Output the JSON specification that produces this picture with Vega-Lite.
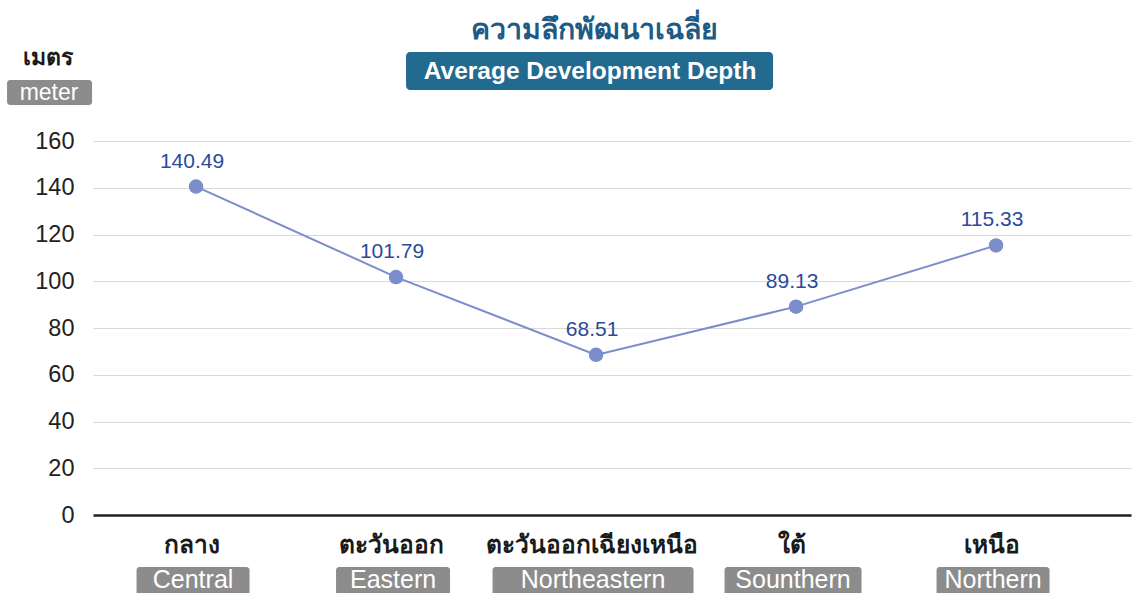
{
  "$schema": "https://vega.github.io/schema/vega-lite/v6.json",
  "autosize": {"type": "none"},
  "width": 1038,
  "height": 374,
  "padding": {"left": 93, "top": 141, "right": 1, "bottom": 78},
  "background": "white",
  "config": {"view": {"stroke": null}, "font": "Liberation Sans"},
  "data": {"values": [
    {"region_th": "กลาง", "region_en": "Central", "depth": 140.49},
    {"region_th": "ตะวันออก", "region_en": "Eastern", "depth": 101.79},
    {"region_th": "ตะวันออกเฉียงเหนือ", "region_en": "Northeastern", "depth": 68.51},
    {"region_th": "ใต้", "region_en": "Sounthern", "depth": 89.13},
    {"region_th": "เหนือ", "region_en": "Northern", "depth": 115.33}
  ]},
  "layer": [
    {
      "mark": {"type": "line", "color": "#7b8ecb", "strokeWidth": 2},
      "encoding": {
        "x": {"field": "region_th", "type": "nominal", "sort": null,
          "scale": {"type": "point", "padding": 0.595, "align": 0.433},
          "axis": {"title": null, "domain": true, "domainColor": "#222222", "domainWidth": 2.5, "ticks": false, "grid": false,
            "labelFontSize": 24.5, "labelFontWeight": "bold", "labelColor": "#1a1a1a", "labelPadding": 18, "labelOffset": -5, "labelAngle": 0, "labelLimit": 500}},
        "y": {"field": "depth", "type": "quantitative",
          "scale": {"domain": [0, 160], "nice": false},
          "axis": {"title": null, "values": [0, 20, 40, 60, 80, 100, 120, 140, 160], "grid": true, "gridColor": "#d9d9d9", "gridWidth": 1,
            "ticks": false, "domain": false, "labelFontSize": 23.5, "labelColor": "#222222", "labelPadding": 19}}
      }
    },
    {
      "mark": {"type": "point", "filled": true, "opacity": 1, "color": "#7b8ecb", "size": 210},
      "encoding": {
        "x": {"field": "region_th", "type": "nominal", "sort": null},
        "y": {"field": "depth", "type": "quantitative"}
      }
    },
    {
      "mark": {"type": "text", "fontSize": 21, "color": "#2b4a9a", "dy": -25, "dx": -4, "baseline": "middle"},
      "encoding": {
        "x": {"field": "region_th", "type": "nominal", "sort": null},
        "y": {"field": "depth", "type": "quantitative"},
        "text": {"field": "depth", "type": "quantitative", "format": ".2f"}
      }
    },
    {
      "mark": {"type": "bar", "color": "#8c8c8c", "cornerRadius": 3, "xOffset": -3, "yOffset": 52, "y2Offset": 82, "clip": false},
      "encoding": {
        "x": {"field": "region_th", "type": "nominal", "sort": null},
        "y": {"datum": 0, "type": "quantitative"},
        "y2": {"datum": 0},
        "size": {"field": "region_en", "type": "nominal", "legend": null,
          "scale": {"type": "ordinal", "domain": ["Central", "Eastern", "Northeastern", "Sounthern", "Northern"], "range": [113, 114, 201, 137, 113]}}
      }
    },
    {
      "mark": {"type": "text", "fontSize": 25, "color": "white", "dx": -3, "dy": 65, "baseline": "middle"},
      "encoding": {
        "x": {"field": "region_th", "type": "nominal", "sort": null},
        "y": {"datum": 0, "type": "quantitative"},
        "text": {"field": "region_en", "type": "nominal"}
      }
    },
    {
      "data": {"values": [{"t": "ความลึกพัฒนาเฉลี่ย"}]},
      "mark": {"type": "text", "fontSize": 28.5, "fontWeight": "bold", "color": "#1f5a86", "dx": -2, "dy": -111, "baseline": "middle"},
      "encoding": {
        "x": {"datum": "ตะวันออกเฉียงเหนือ", "type": "nominal"},
        "y": {"datum": 160, "type": "quantitative"},
        "text": {"field": "t", "type": "nominal"}
      }
    },
    {
      "data": {"values": [{"t": "Average Development Depth"}]},
      "mark": {"type": "rect", "fill": "#226a90", "cornerRadius": 4, "xOffset": -190, "x2Offset": 177, "yOffset": -89, "y2Offset": -51},
      "encoding": {
        "x": {"datum": "ตะวันออกเฉียงเหนือ", "type": "nominal"},
        "x2": {"datum": "ตะวันออกเฉียงเหนือ"},
        "y": {"datum": 160, "type": "quantitative"},
        "y2": {"datum": 160}
      }
    },
    {
      "data": {"values": [{"t": "Average Development Depth"}]},
      "mark": {"type": "text", "fontSize": 24.5, "fontWeight": "bold", "color": "white", "dx": -6, "dy": -69, "baseline": "middle"},
      "encoding": {
        "x": {"datum": "ตะวันออกเฉียงเหนือ", "type": "nominal"},
        "y": {"datum": 160, "type": "quantitative"},
        "text": {"field": "t", "type": "nominal"}
      }
    },
    {
      "data": {"values": [{"t": "เมตร"}]},
      "mark": {"type": "text", "fontSize": 23, "fontWeight": "bold", "color": "#1a1a1a", "dx": -148, "dy": -83, "baseline": "middle"},
      "encoding": {
        "x": {"datum": "กลาง", "type": "nominal"},
        "y": {"datum": 160, "type": "quantitative"},
        "text": {"field": "t", "type": "nominal"}
      }
    },
    {
      "data": {"values": [{"t": "meter"}]},
      "mark": {"type": "rect", "fill": "#8c8c8c", "cornerRadius": 3, "xOffset": -189, "x2Offset": -104, "yOffset": -61, "y2Offset": -36},
      "encoding": {
        "x": {"datum": "กลาง", "type": "nominal"},
        "x2": {"datum": "กลาง"},
        "y": {"datum": 160, "type": "quantitative"},
        "y2": {"datum": 160}
      }
    },
    {
      "data": {"values": [{"t": "meter"}]},
      "mark": {"type": "text", "fontSize": 23, "color": "white", "dx": -147, "dy": -48, "baseline": "middle"},
      "encoding": {
        "x": {"datum": "กลาง", "type": "nominal"},
        "y": {"datum": 160, "type": "quantitative"},
        "text": {"field": "t", "type": "nominal"}
      }
    }
  ]
}
